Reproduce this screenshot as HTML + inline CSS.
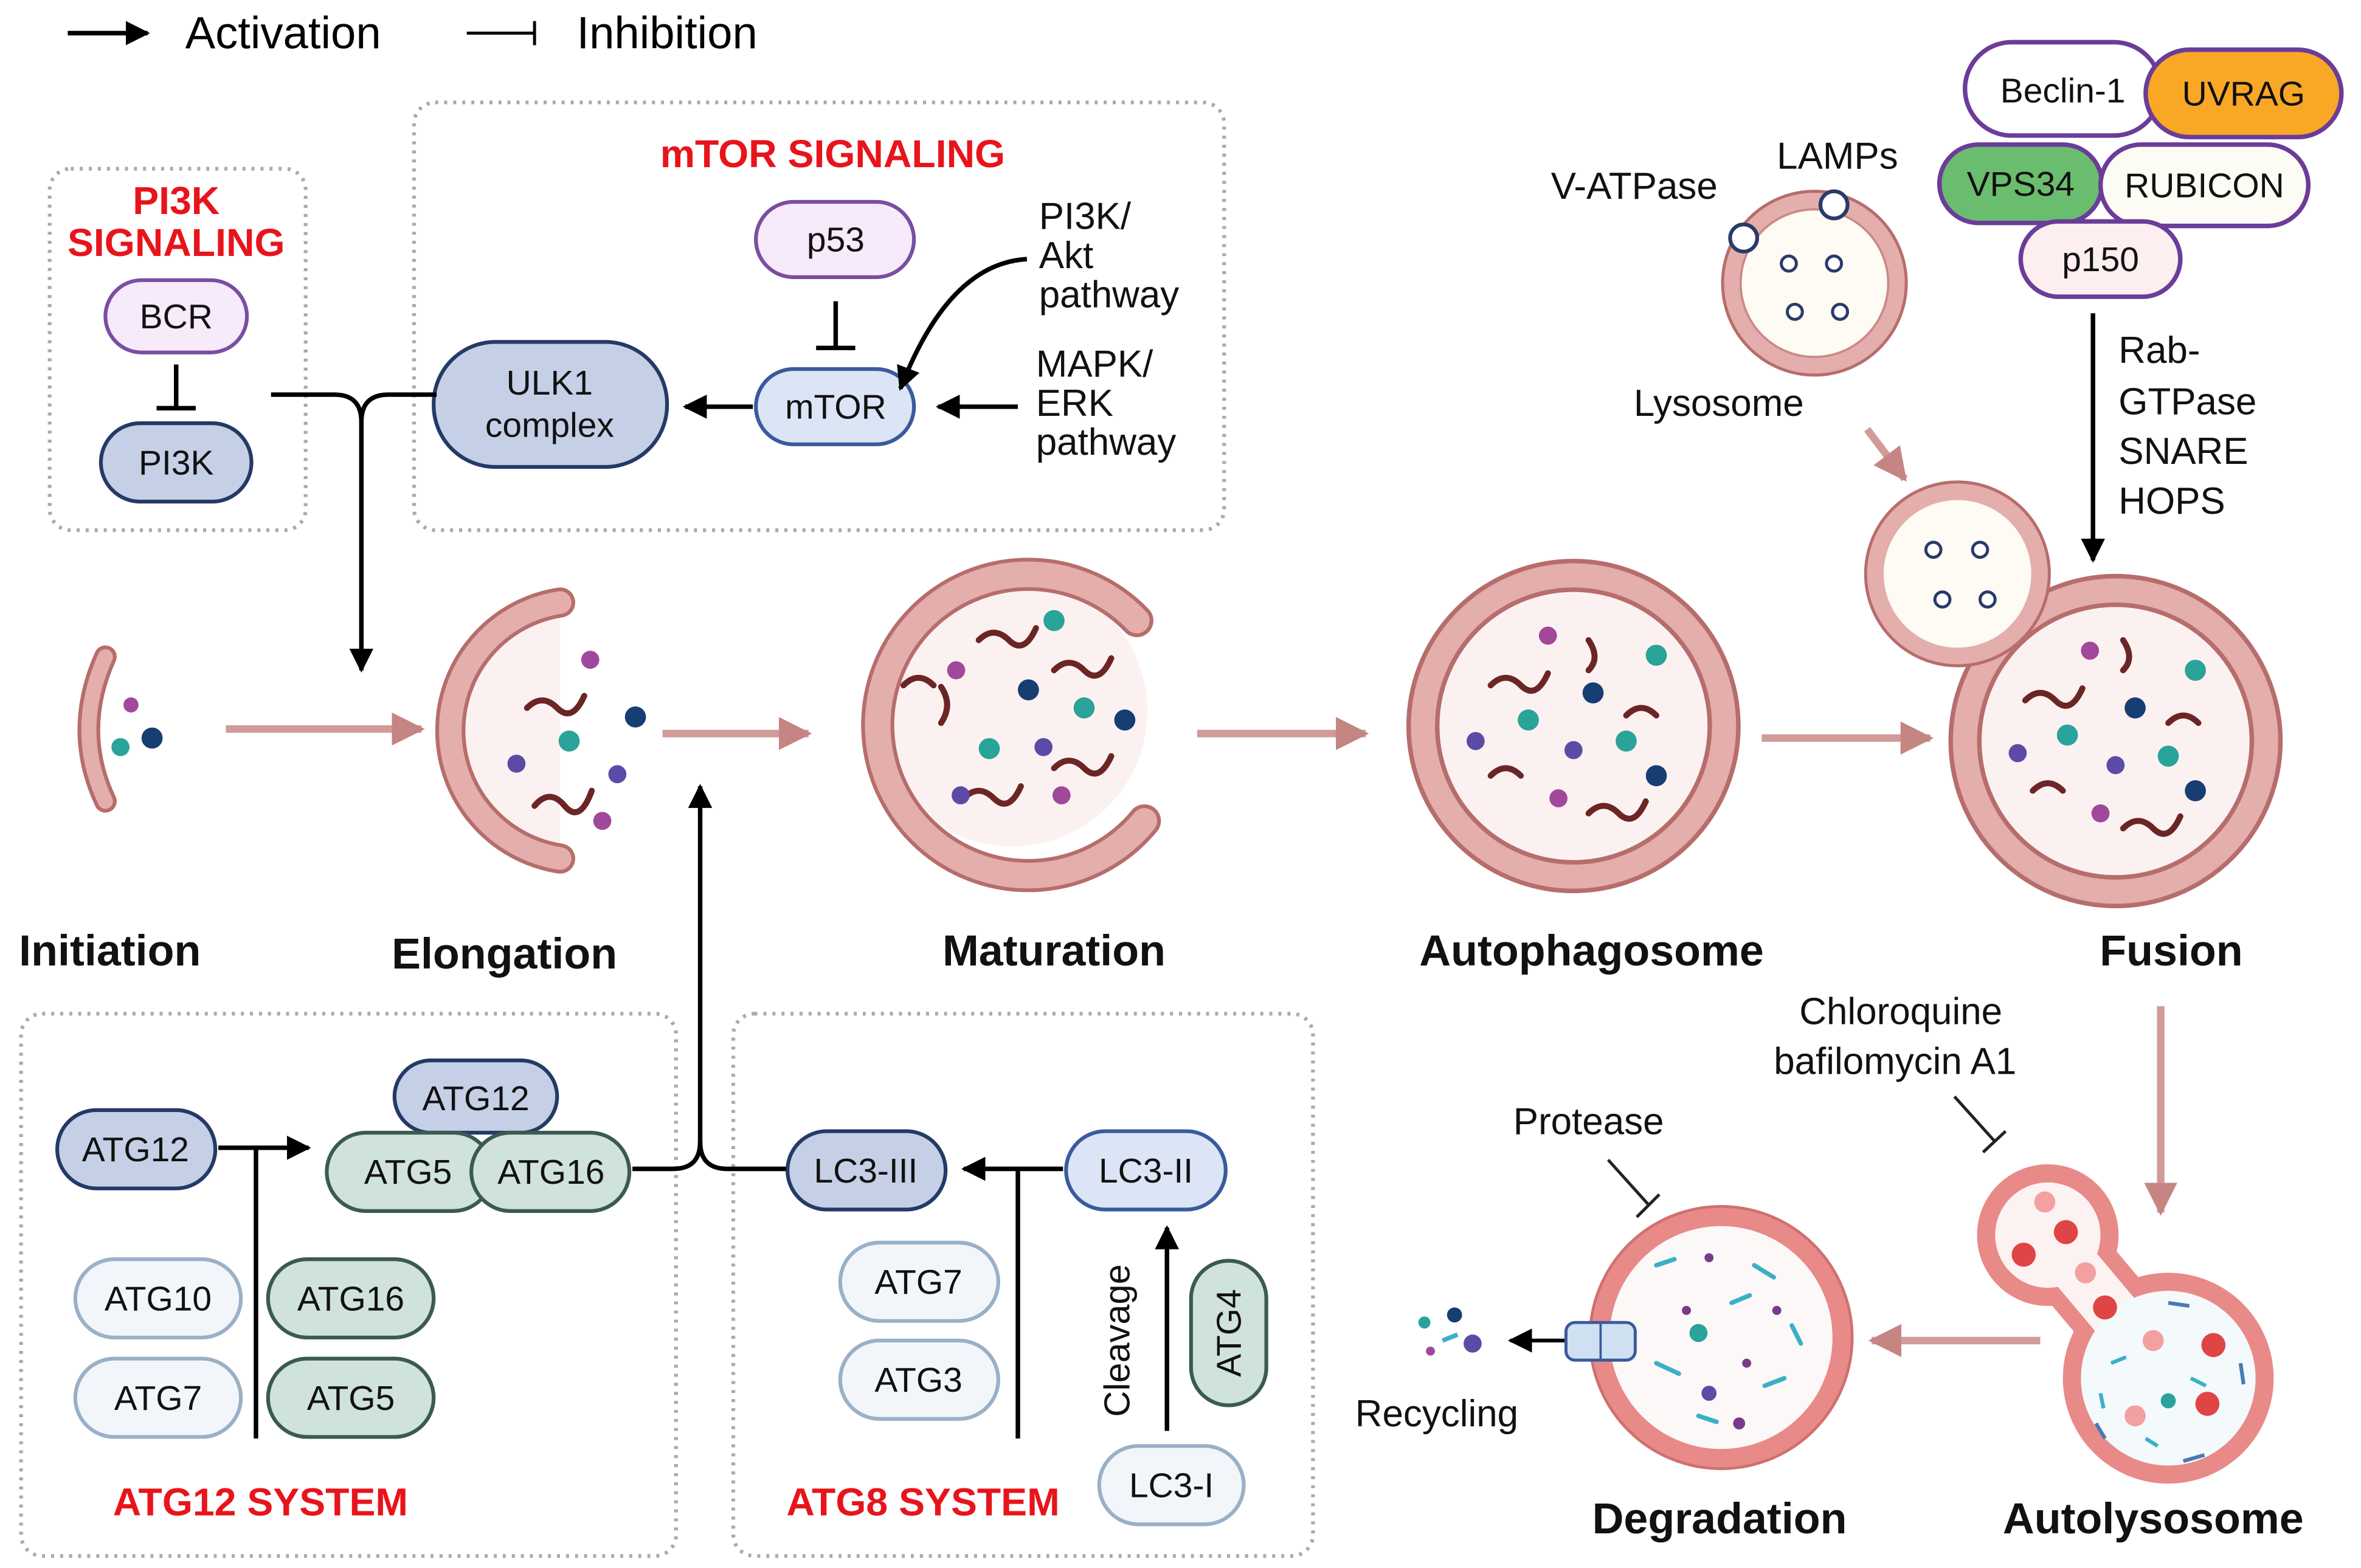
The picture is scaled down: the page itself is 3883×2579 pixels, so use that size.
<!DOCTYPE html>
<html><head><meta charset="utf-8"><style>
html,body{margin:0;padding:0;background:#fff;}
svg{display:block;}
text{font-family:"Liberation Sans",sans-serif;}
</style></head><body>
<svg width="3883" height="2579" viewBox="0 0 1568 1041" preserveAspectRatio="none" xmlns="http://www.w3.org/2000/svg">
<defs>
<marker id="ab2" viewBox="0 0 10 10" markerWidth="16" markerHeight="16" refX="9" refY="5" orient="auto" markerUnits="userSpaceOnUse"><path d="M0,0 L10,5 L0,10 z" fill="#000"/></marker>
<marker id="ap" viewBox="0 0 10 10" markerWidth="22" markerHeight="22" refX="9" refY="5" orient="auto" markerUnits="userSpaceOnUse"><path d="M0,0 L10,5 L0,10 z" fill="#c48583"/></marker>
</defs>

<line x1="45" y1="22" x2="98" y2="22" stroke="#000" stroke-width="3" marker-end="url(#ab2)"/>
<text x="123" y="32" font-size="30">Activation</text>
<line x1="310" y1="22" x2="355" y2="22" stroke="#000" stroke-width="2"/>
<line x1="355" y1="14" x2="355" y2="30" stroke="#000" stroke-width="2"/>
<text x="383" y="32" font-size="30">Inhibition</text>

<g fill="none" stroke="#aaa" stroke-width="2.5" stroke-dasharray="2 4">
<rect x="33" y="112" width="170" height="240" rx="14"/>
<rect x="275" y="68" width="538" height="284" rx="14"/>
<rect x="14" y="673" width="435" height="360" rx="14"/>
<rect x="487" y="673" width="385" height="360" rx="14"/>
</g>
<g font-weight="bold" fill="#e8141b" font-size="26" text-anchor="middle">
<text x="117" y="142">PI3K</text><text x="117" y="170">SIGNALING</text>
<text x="553" y="111">mTOR SIGNALING</text>
<text x="173" y="1006">ATG12 SYSTEM</text>
<text x="613" y="1006">ATG8 SYSTEM</text>
</g>

<g stroke-width="2.5" font-size="23" text-anchor="middle">
<rect x="70" y="186" width="94" height="48" rx="24" fill="#f6eafb" stroke="#7a4ea0"/>
<rect x="67" y="281" width="100" height="52" rx="26" fill="#c5d0e6" stroke="#243a66"/>
<rect x="288" y="227" width="155" height="83" rx="41" fill="#c5d0e6" stroke="#243a66"/>
<rect x="502" y="134" width="105" height="50" rx="25" fill="#f6eafb" stroke="#7a4ea0"/>
<rect x="502" y="245" width="105" height="50" rx="25" fill="#dbe5f6" stroke="#3a5a9c"/>
<rect x="1305" y="28" width="130" height="62" rx="31" fill="#fff" stroke="#6b3c99" stroke-width="3"/>
<rect x="1425" y="33" width="130" height="58" rx="29" fill="#f9a825" stroke="#6b3c99" stroke-width="3"/>
<rect x="1288" y="96" width="108" height="52" rx="26" fill="#6abd6e" stroke="#6b3c99" stroke-width="3"/>
<rect x="1395" y="96" width="138" height="54" rx="27" fill="#fdfcf4" stroke="#6b3c99" stroke-width="3"/>
<rect x="1342" y="147" width="106" height="50" rx="25" fill="#fdeef0" stroke="#6b3c99" stroke-width="3"/>
<rect x="38" y="737" width="105" height="52" rx="26" fill="#c5d0e6" stroke="#243a66"/>
<rect x="262" y="704" width="108" height="48" rx="24" fill="#c5d0e6" stroke="#243a66"/>
<rect x="217" y="752" width="110" height="52" rx="26" fill="#cfe2dc" stroke="#3a5a52"/>
<rect x="313" y="752" width="105" height="52" rx="26" fill="#cfe2dc" stroke="#3a5a52"/>
<rect x="50" y="836" width="110" height="52" rx="26" fill="#f2f6fb" stroke="#9ab0c6"/>
<rect x="178" y="836" width="110" height="52" rx="26" fill="#cfe2dc" stroke="#3a5a52"/>
<rect x="50" y="902" width="110" height="52" rx="26" fill="#f2f6fb" stroke="#9ab0c6"/>
<rect x="178" y="902" width="110" height="52" rx="26" fill="#cfe2dc" stroke="#3a5a52"/>
<rect x="523" y="751" width="105" height="52" rx="26" fill="#c5d0e6" stroke="#243a66"/>
<rect x="708" y="751" width="106" height="52" rx="26" fill="#dbe5f6" stroke="#3a5a9c"/>
<rect x="558" y="825" width="105" height="52" rx="26" fill="#f2f6fb" stroke="#9ab0c6"/>
<rect x="558" y="890" width="105" height="52" rx="26" fill="#f2f6fb" stroke="#9ab0c6"/>
<rect x="791" y="837" width="50" height="96" rx="25" fill="#cfe2dc" stroke="#3a5a52"/>
<rect x="730" y="960" width="96" height="52" rx="26" fill="#f2f6fb" stroke="#9ab0c6"/>
</g>
<g font-size="23" text-anchor="middle" fill="#111">
<text x="117" y="218">BCR</text>
<text x="117" y="315">PI3K</text>
<text x="365" y="262">ULK1</text><text x="365" y="290">complex</text>
<text x="555" y="167">p53</text>
<text x="555" y="278">mTOR</text>
<text x="1370" y="68">Beclin-1</text>
<text x="1490" y="70">UVRAG</text>
<text x="1342" y="130">VPS34</text>
<text x="1464" y="131">RUBICON</text>
<text x="1395" y="180">p150</text>
<text x="90" y="771">ATG12</text>
<text x="316" y="737">ATG12</text>
<text x="271" y="786">ATG5</text>
<text x="366" y="786">ATG16</text>
<text x="105" y="870">ATG10</text>
<text x="233" y="870">ATG16</text>
<text x="105" y="936">ATG7</text>
<text x="233" y="936">ATG5</text>
<text x="575" y="785">LC3-III</text>
<text x="761" y="785">LC3-II</text>
<text x="610" y="859">ATG7</text>
<text x="610" y="924">ATG3</text>
<text x="778" y="994">LC3-I</text>
<text transform="translate(824,885) rotate(-90)">ATG4</text>
<text transform="translate(750,890) rotate(-90)" font-size="24">Cleavage</text>
</g>

<g font-size="25" fill="#111">
<text x="690" y="152">PI3K/</text><text x="690" y="178">Akt</text><text x="690" y="204">pathway</text>
<text x="688" y="250">MAPK/</text><text x="688" y="276">ERK</text><text x="688" y="302">pathway</text>
<text x="1030" y="132">V-ATPase</text>
<text x="1180" y="112">LAMPs</text>
<text x="1085" y="276">Lysosome</text>
<text x="1407" y="241">Rab-</text><text x="1407" y="275">GTPase</text><text x="1407" y="308">SNARE</text><text x="1407" y="341">HOPS</text>
<text x="1005" y="753">Protease</text>
<text x="1195" y="680">Chloroquine</text>
<text x="1178" y="713">bafilomycin A1</text>
<text x="900" y="947">Recycling</text>
</g>
<g font-size="29" font-weight="bold" text-anchor="middle" fill="#111">
<text x="73" y="641">Initiation</text>
<text x="335" y="643">Elongation</text>
<text x="700" y="641">Maturation</text>
<text x="1057" y="641">Autophagosome</text>
<text x="1442" y="641">Fusion</text>
<text x="1142" y="1018">Degradation</text>
<text x="1430" y="1018">Autolysosome</text>
</g>

<g fill="none" stroke="#000" stroke-width="3">
<path d="M180,262 H222 Q240,262 240,280 V445" marker-end="url(#ab2)"/>
<path d="M290,262 H258 Q240,262 240,280"/>
<path d="M420,776 H447 Q465,776 465,758 V522" marker-end="url(#ab2)"/>
<path d="M522,776 H483 Q465,776 465,758"/>
<line x1="500" y1="270" x2="455" y2="270" marker-end="url(#ab2)"/>
<line x1="676" y1="270" x2="623" y2="270" marker-end="url(#ab2)"/>
<path d="M682,172 Q630,175 598,258" marker-end="url(#ab2)"/>
<line x1="555" y1="200" x2="555" y2="230"/><line x1="542" y1="231" x2="568" y2="231"/>
<line x1="117" y1="242" x2="117" y2="270"/><line x1="104" y1="271" x2="130" y2="271"/>
<line x1="145" y1="762" x2="205" y2="762" marker-end="url(#ab2)"/>
<line x1="170" y1="955" x2="170" y2="762"/>
<line x1="706" y1="776" x2="640" y2="776" marker-end="url(#ab2)"/>
<line x1="676" y1="955" x2="676" y2="776"/>
<line x1="775" y1="950" x2="775" y2="815" marker-end="url(#ab2)"/>
<line x1="1390" y1="208" x2="1390" y2="372" marker-end="url(#ab2)"/>
<line x1="1040" y1="890" x2="1003" y2="890" marker-end="url(#ab2)" stroke-width="2.5"/>
</g>
<g stroke="#222" stroke-width="2">
<line x1="1068" y1="770" x2="1095" y2="800"/><line x1="1087" y1="808" x2="1102" y2="793"/>
<line x1="1298" y1="728" x2="1325" y2="758"/><line x1="1317" y1="765" x2="1332" y2="751"/>
</g>

<g fill="none" stroke-width="5" stroke="#c98a88" stroke-opacity="0.85">
<line x1="150" y1="484" x2="280" y2="484" marker-end="url(#ap)"/>
<line x1="440" y1="487" x2="537" y2="487" marker-end="url(#ap)"/>
<line x1="795" y1="487" x2="907" y2="487" marker-end="url(#ap)"/>
<line x1="1170" y1="490" x2="1282" y2="490" marker-end="url(#ap)"/>
<line x1="1240" y1="285" x2="1265" y2="318" marker-end="url(#ap)"/>
<line x1="1435" y1="668" x2="1435" y2="805" marker-end="url(#ap)"/>
<line x1="1355" y1="890" x2="1243" y2="890" marker-end="url(#ap)"/>
</g>

<path d="M70,436 Q48,485 70,532" fill="none" stroke="#b66d6c" stroke-width="15" stroke-linecap="round"/>
<path d="M70,436 Q48,485 70,532" fill="none" stroke="#e3aeab" stroke-width="10" stroke-linecap="round"/>
<circle cx="87" cy="468" r="5" fill="#a0489a"/><circle cx="80" cy="496" r="6" fill="#2aa39a"/><circle cx="101" cy="490" r="7" fill="#173e73"/>

<path d="M372,400 A86,86 0 0 0 372,570" fill="#fcf1f1" stroke="none"/>
<path d="M372,400 A86,86 0 0 0 372,570" fill="none" stroke="#b66d6c" stroke-width="20" stroke-linecap="round"/>
<path d="M372,400 A86,86 0 0 0 372,570" fill="none" stroke="#e3aeab" stroke-width="15" stroke-linecap="round"/>
<g fill="#a0489a"><circle cx="392" cy="438" r="6"/><circle cx="400" cy="545" r="6"/></g>
<g fill="#5b4ba6"><circle cx="343" cy="507" r="6"/><circle cx="410" cy="514" r="6"/></g>
<circle cx="378" cy="492" r="7" fill="#2aa39a"/><circle cx="422" cy="476" r="7" fill="#173e73"/>
<g fill="none" stroke="#6b2525" stroke-width="4" stroke-linecap="round"><path d="M350,470 q10,-10 20,0 t18,-8"/><path d="M355,535 q10,-12 20,0 t18,-10"/></g>

<circle cx="672" cy="472" r="90" fill="#fcf1f1"/>
<path d="M755,412 A100,100 0 1 0 760,545" fill="none" stroke="#b66d6c" stroke-width="22" stroke-linecap="round"/>
<path d="M755,412 A100,100 0 1 0 760,545" fill="none" stroke="#e3aeab" stroke-width="17" stroke-linecap="round"/>
<g fill="none" stroke="#6b2525" stroke-width="4" stroke-linecap="round">
<path d="M650,425 q10,-10 20,0 t18,-8"/><path d="M700,445 q10,-10 20,0 t18,-8"/><path d="M625,480 q8,-12 0,-24"/>
<path d="M640,530 q10,-10 20,0 t18,-8"/><path d="M700,510 q10,-10 20,0 t18,-8"/><path d="M600,455 q10,-10 20,0"/></g>
<g fill="#2aa39a"><circle cx="700" cy="412" r="7"/><circle cx="720" cy="470" r="7"/><circle cx="657" cy="497" r="7"/></g>
<g fill="#173e73"><circle cx="683" cy="458" r="7"/><circle cx="747" cy="478" r="7"/></g>
<g fill="#a0489a"><circle cx="635" cy="445" r="6"/><circle cx="705" cy="528" r="6"/></g>
<g fill="#5b4ba6"><circle cx="693" cy="496" r="6"/><circle cx="638" cy="528" r="6"/></g>

<circle cx="1045" cy="482" r="100" fill="#fcf1f1" stroke="#b66d6c" stroke-width="22"/>
<circle cx="1045" cy="482" r="100" fill="none" stroke="#e3aeab" stroke-width="16"/>
<g fill="none" stroke="#6b2525" stroke-width="4" stroke-linecap="round">
<path d="M990,455 q10,-10 20,0 t18,-8"/><path d="M1055,425 q8,12 0,20"/><path d="M1080,475 q10,-10 20,0"/>
<path d="M990,515 q10,-10 20,0"/><path d="M1055,540 q10,-10 20,0 t18,-8"/></g>
<g fill="#2aa39a"><circle cx="1100" cy="435" r="7"/><circle cx="1015" cy="478" r="7"/><circle cx="1080" cy="492" r="7"/></g>
<g fill="#173e73"><circle cx="1058" cy="460" r="7"/><circle cx="1100" cy="515" r="7"/></g>
<g fill="#a0489a"><circle cx="1028" cy="422" r="6"/><circle cx="1035" cy="530" r="6"/></g>
<g fill="#5b4ba6"><circle cx="980" cy="492" r="6"/><circle cx="1045" cy="498" r="6"/></g>

<circle cx="1205" cy="188" r="55" fill="#fdfbf3" stroke="#e3aeab" stroke-width="12"/>
<circle cx="1205" cy="188" r="61" fill="none" stroke="#b66d6c" stroke-width="2"/>
<circle cx="1205" cy="188" r="49" fill="none" stroke="#c98a88" stroke-width="1.5"/>
<g fill="#fff" stroke="#2a3a6a" stroke-width="2"><circle cx="1188" cy="175" r="5"/><circle cx="1218" cy="175" r="5"/><circle cx="1192" cy="207" r="5"/><circle cx="1222" cy="207" r="5"/></g>
<circle cx="1158" cy="158" r="9" fill="#fff" stroke="#2a3a6a" stroke-width="2.5"/>
<circle cx="1218" cy="136" r="9" fill="#fff" stroke="#2a3a6a" stroke-width="2.5"/>

<circle cx="1405" cy="492" r="100" fill="#fcf1f1" stroke="#b66d6c" stroke-width="22"/>
<circle cx="1405" cy="492" r="100" fill="none" stroke="#e3aeab" stroke-width="16"/>
<circle cx="1300" cy="381" r="55" fill="#fdfbf3" stroke="#e3aeab" stroke-width="12"/>
<circle cx="1300" cy="381" r="61" fill="none" stroke="#b66d6c" stroke-width="2"/>
<g fill="#fff" stroke="#2a3a6a" stroke-width="2"><circle cx="1284" cy="365" r="5"/><circle cx="1315" cy="365" r="5"/><circle cx="1290" cy="398" r="5"/><circle cx="1320" cy="398" r="5"/></g>
<g fill="none" stroke="#6b2525" stroke-width="4" stroke-linecap="round">
<path d="M1345,465 q10,-10 20,0 t18,-8"/><path d="M1410,425 q8,12 0,20"/><path d="M1440,480 q10,-10 20,0"/>
<path d="M1350,525 q10,-10 20,0"/><path d="M1410,550 q10,-10 20,0 t18,-8"/></g>
<g fill="#2aa39a"><circle cx="1458" cy="445" r="7"/><circle cx="1373" cy="488" r="7"/><circle cx="1440" cy="502" r="7"/></g>
<g fill="#173e73"><circle cx="1418" cy="470" r="7"/><circle cx="1458" cy="525" r="7"/></g>
<g fill="#a0489a"><circle cx="1388" cy="432" r="6"/><circle cx="1395" cy="540" r="6"/></g>
<g fill="#5b4ba6"><circle cx="1340" cy="500" r="6"/><circle cx="1405" cy="508" r="6"/></g>

<!-- Autolysosome -->
<g>
<circle cx="1360" cy="820" r="47" fill="#e88a88"/>
<circle cx="1440" cy="915" r="70" fill="#e88a88"/>
<line x1="1360" y1="820" x2="1440" y2="915" stroke="#e88a88" stroke-width="56"/>
<line x1="1360" y1="820" x2="1440" y2="915" stroke="#fdf2f2" stroke-width="34"/>
<circle cx="1360" cy="820" r="35" fill="#fdf2f2"/>
<circle cx="1440" cy="915" r="58" fill="#f4f9fc"/>
</g>
<g fill="#e04545"><circle cx="1344" cy="833" r="8"/><circle cx="1372" cy="818" r="8"/><circle cx="1398" cy="868" r="8"/><circle cx="1470" cy="893" r="8"/><circle cx="1466" cy="932" r="8"/></g>
<g fill="#f2a0a0"><circle cx="1358" cy="798" r="7"/><circle cx="1385" cy="845" r="7"/><circle cx="1430" cy="890" r="7"/><circle cx="1418" cy="940" r="7"/></g>
<g fill="none" stroke="#3ab0c8" stroke-width="2.5"><path d="M1402,905 l10,-4"/><path d="M1455,915 l10,5"/><path d="M1425,955 l8,5"/><path d="M1395,925 l2,10"/></g>
<g fill="none" stroke="#4a7ab0" stroke-width="2.5"><path d="M1440,865 l14,2"/><path d="M1488,905 l2,14"/><path d="M1450,970 l14,-4"/><path d="M1392,945 l6,10"/></g>
<circle cx="1440" cy="930" r="5" fill="#2aa39a"/>

<circle cx="1143" cy="888" r="80" fill="#fcf8f8" stroke="#e88a88" stroke-width="12"/>
<circle cx="1143" cy="888" r="87" fill="none" stroke="#d0706f" stroke-width="2"/>
<g stroke="#3ab0c8" stroke-width="3" stroke-linecap="round">
<line x1="1100" y1="840" x2="1112" y2="836"/><line x1="1165" y1="840" x2="1178" y2="848"/><line x1="1150" y1="865" x2="1162" y2="860"/>
<line x1="1100" y1="905" x2="1115" y2="912"/><line x1="1172" y1="920" x2="1185" y2="915"/><line x1="1128" y1="940" x2="1140" y2="944"/>
<line x1="1190" y1="880" x2="1196" y2="892"/></g>
<g fill="#7a3a8a"><circle cx="1135" cy="835" r="3"/><circle cx="1120" cy="870" r="3"/><circle cx="1180" cy="870" r="3"/><circle cx="1160" cy="905" r="3"/><circle cx="1155" cy="945" r="4"/></g>
<circle cx="1128" cy="885" r="6" fill="#2aa39a"/><circle cx="1135" cy="925" r="5" fill="#5b4ba6"/>
<rect x="1040" y="878" width="46" height="25" rx="6" fill="#cfe0f0" stroke="#3a5a9c" stroke-width="2"/>
<line x1="1063" y1="878" x2="1063" y2="903" stroke="#3a5a9c" stroke-width="1.5"/>
<circle cx="946" cy="878" r="4" fill="#2aa39a"/><circle cx="966" cy="873" r="5" fill="#173e73"/><circle cx="950" cy="897" r="3" fill="#a0489a"/>
<line x1="958" y1="890" x2="968" y2="886" stroke="#3ab0c8" stroke-width="3"/>
<circle cx="978" cy="892" r="6" fill="#5b4ba6"/>
</svg>
</body></html>
